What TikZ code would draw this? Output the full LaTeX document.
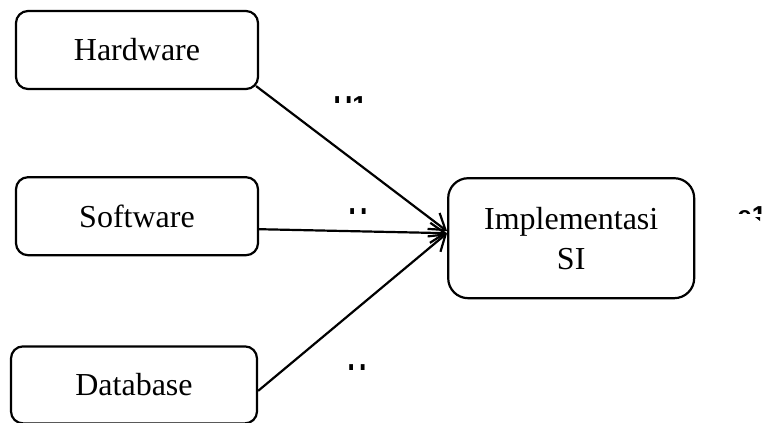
\documentclass[tikz,border=0pt]{standalone}
\usepackage{fontspec}
\setmainfont{Liberation Serif}
\newfontfamily\hintfont{Liberation Sans}
\usepackage{tikz}
\usetikzlibrary{arrows.meta, positioning, calc}

\begin{document}
\begin{tikzpicture}[
    x=0.5pt, y=-0.5pt,
    factor/.style={
        rectangle, rounded corners=6pt, draw=black, line width=1.1pt,
        minimum width=121pt, minimum height=39pt, inner sep=0pt,
        font=\fontsize{16}{20}\selectfont, align=center
    },
    arrow/.style={-{Straight Barb[length=7.5pt,width=10pt]}, line width=1.1pt},
    hint/.style={font=\hintfont\bfseries\fontsize{13}{15}\selectfont, inner sep=0pt, anchor=base west}
]
\useasboundingbox (0,0) rectangle (762,423);

% Factors
\node[factor] (hw) at (137,50) {Hardware};
\node[factor, below=43pt of hw] (sw) {Software};
\node[factor, below=44.5pt of sw, xshift=-1.5pt, minimum width=123pt, minimum height=38.5pt] (db) {Database};

% Result
\node[factor, right=94pt of sw, yshift=-11pt, rounded corners=10pt,
      minimum width=123pt, minimum height=60pt] (impl) {Implementasi\\SI};

% Arrows
\draw[arrow] ($(hw.south east)+(-3,-4)$) -- ($(impl.west)+(0,-7)$);
\draw[arrow] ($(sw.east)+(0,13)$) -- ($(impl.west)+(0,-5)$);
\draw[arrow] ($(db.east)+(0,6)$) -- ($(impl.west)+(0,-5)$);

% Clipped labels
\begin{scope}
\clip (328,96) rectangle (372,102.3);
\node[hint] (h1) at (333.2,114.9) {H1};
\end{scope}
\begin{scope}
\clip (345,207.5) rectangle (372,213);
\node[hint] (h2) at (348.2,226.6) {H};
\end{scope}
\begin{scope}
\clip (345,363.5) rectangle (372,369);
\node[hint] (h3) at (347.2,382.6) {H};
\end{scope}
\begin{scope}
\clip (730,206.5) rectangle (762,213);
\node[hint] (e1) at (737,224) {e1};
\end{scope}
\fill (755,217) -- (760,217) -- (760,221) -- cycle;

\end{tikzpicture}
\end{document}
